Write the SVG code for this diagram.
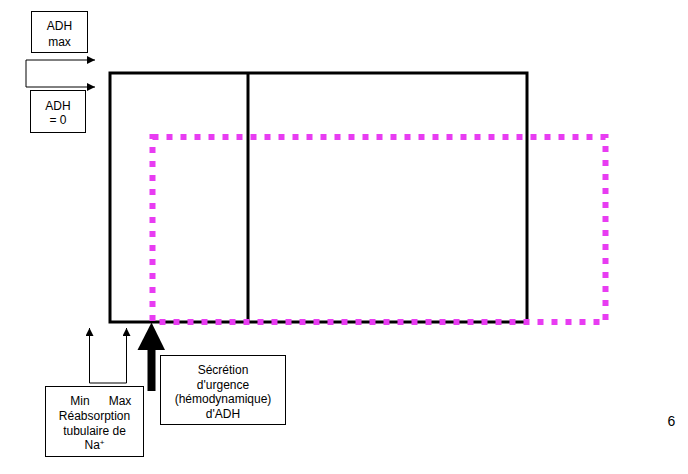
<svg xmlns="http://www.w3.org/2000/svg" width="688" height="474" viewBox="0 0 688 474">
<style>
text{font-family:"Liberation Sans",Arial,sans-serif;font-size:12px;fill:#000;text-anchor:middle}
.box{fill:#fff;stroke:#000;stroke-width:1}
.thin{fill:none;stroke:#000;stroke-width:1}
</style>
<defs>
<marker id="ah" viewBox="0 0 10 10" refX="10" refY="5" markerWidth="8" markerHeight="8" markerUnits="userSpaceOnUse" orient="auto">
<path d="M0,0 L10,5 L0,10 z" fill="#000"/>
</marker>
<marker id="ah2" viewBox="0 0 10 10" refX="10" refY="5" markerWidth="9" markerHeight="8" markerUnits="userSpaceOnUse" orient="auto">
<path d="M0,0 L10,5 L0,10 z" fill="#000"/>
</marker>
</defs>
<rect width="688" height="474" fill="#fff"/>
<g id="main-rect">
<rect x="110" y="73" width="417" height="249" fill="none" stroke="#000" stroke-width="3"/>
<line x1="248" y1="73" x2="248" y2="322" stroke="#000" stroke-width="3"/>
</g>
<g id="dotted-rect">
<rect x="152.5" y="137" width="453" height="185" fill="none" stroke="#e83cf2" stroke-width="6" stroke-dasharray="6 8"/>
</g>
<g id="connectors">
<polyline class="thin" points="26,60 95,60" marker-end="url(#ah)"/>
<polyline class="thin" points="26,60 26,87 95,87" marker-end="url(#ah)"/>
<line class="thin" x1="89.5" y1="383" x2="126.5" y2="383"/>
<line class="thin" x1="89.5" y1="383" x2="89.5" y2="328" marker-end="url(#ah2)"/>
<line class="thin" x1="126.5" y1="383" x2="126.5" y2="328" marker-end="url(#ah2)"/>
<g id="big-arrow">
<rect x="147.5" y="348" width="8" height="43" fill="#000"/>
<path d="M137.5,350 L151.5,322.5 L165,350 z" fill="#000"/>
</g>
</g>
<g id="adh-max">
<rect class="box" x="31.5" y="11.5" width="56" height="41"/>
<text x="59.5" y="30">ADH</text>
<text x="59.5" y="45.5">max</text>
</g>
<g id="adh-zero">
<rect class="box" x="30.5" y="90.5" width="55" height="42"/>
<text x="58" y="110">ADH</text>
<text x="58" y="123.5">= 0</text>
</g>
<g id="reabsorption">
<rect class="box" x="45.5" y="386.5" width="98" height="70"/>
<text x="80" y="405">Min</text>
<text x="120" y="405">Max</text>
<text x="94.5" y="420">Réabsorption</text>
<text x="94.5" y="434.5">tubulaire de</text>
<text x="94.5" y="449">Na<tspan font-size="8" dy="-4">+</tspan></text>
</g>
<g id="secretion">
<rect class="box" x="160.5" y="355.5" width="125" height="69"/>
<text x="223" y="374">Sécrétion</text>
<text x="223" y="388.5">d'urgence</text>
<text x="223" y="403">(hémodynamique)</text>
<text x="223" y="417.5">d'ADH</text>
</g>
<g id="page-number">
<text x="671.5" y="426" style="font-size:14px">6</text>
</g>
</svg>
